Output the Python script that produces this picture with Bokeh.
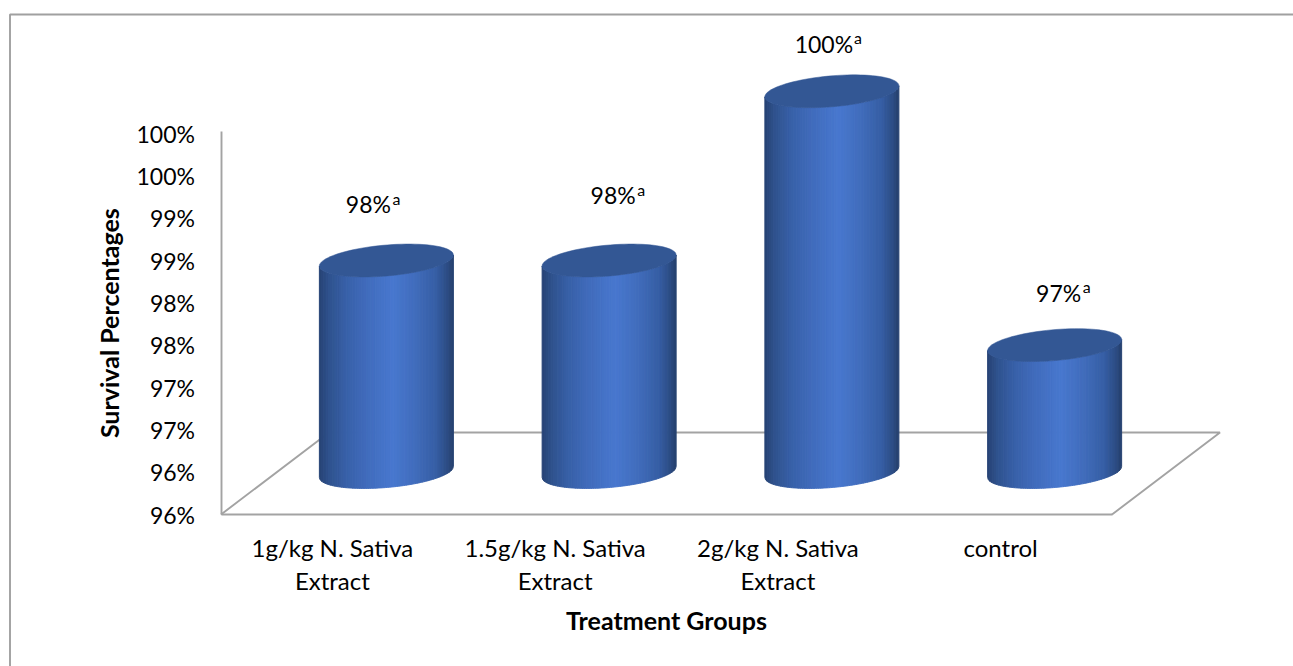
import numpy as np
from bokeh.plotting import figure
from bokeh.models import ColumnDataSource, FixedTicker, Range1d
from bokeh.core.properties import value
from bokeh.embed import file_html
from bokeh.resources import INLINE

# ---- data ----
categories = ["1g/kg N. Sativa\nExtract", "1.5g/kg N. Sativa\nExtract", "2g/kg N. Sativa\nExtract", "control"]
survival = [98, 98, 100, 97]
bar_labels = ["98%", "98%", "100%", "97%"]
y_ticks = [95.5, 96, 96.5, 97, 97.5, 98, 98.5, 99, 99.5, 100]
y_tick_labels = ["96%", "96%", "97%", "97%", "98%", "98%", "99%", "99%", "100%", "100%"]
y_title = "Survival Percentages"
x_title = "Treatment Groups"
superscript = "a"

# ---- layout and style ----
FONT = "Lato"
W, H = 1293, 666
ORIGIN_PX_X, ORIGIN_PX_Y = 220.5, 514         # where the axes cross, in canvas pixels
BORDER_PX_X, BORDER_PX_Y = 9.5, 14            # outer panel edges, in canvas pixels
X_UNIT, Y_UNIT = 222.75, 84.6                 # px per data unit
BASE = 95.5
X0 = -0.5
DEPTH_X, DEPTH_Y = 108 / X_UNIT, 82 / Y_UNIT  # full floor depth
LIFT = 1.5 / Y_UNIT
HALF_W = 67 / X_UNIT
MINOR = 15.5 / Y_UNIT
SHEAR = 5.5 / Y_UNIT
AXIS_COLOR = "#a3a3a3"
TOP_COLOR = "#335794"
LINE_W = 1.9
STOPS_U = [-1.0, -0.85, -0.6, -0.3, 0.1, 0.45, 0.75, 0.92, 1.0]
STOPS_RGB = [(0x26, 0x42, 0x73), (0x2f, 0x52, 0x8d), (0x38, 0x60, 0xa8), (0x40, 0x6b, 0xbb),
             (0x48, 0x78, 0xcf), (0x40, 0x6c, 0xbb), (0x36, 0x5e, 0xa4), (0x2c, 0x4c, 0x83), (0x26, 0x40, 0x6e)]

x_start = X0 - ORIGIN_PX_X / X_UNIT
x_end = x_start + W / X_UNIT
y_start = BASE - (H - ORIGIN_PX_Y) / Y_UNIT
y_end = y_start + H / Y_UNIT

p = figure(width=W, height=H, output_backend="svg", toolbar_location=None,
           x_range=Range1d(x_start, x_end), y_range=Range1d(y_start, y_end),
           min_border_left=0, min_border_right=0, min_border_top=0, min_border_bottom=0)
p.grid.visible = False
p.outline_line_color = None

# axes
xa = p.xaxis[0]
xa.fixed_location = BASE
xa.ticker = FixedTicker(ticks=list(range(len(categories))))
xa.major_label_overrides = {i: c for i, c in enumerate(categories)}
xa.bounds = (X0, len(categories) - 0.5)
xa.axis_line_color = AXIS_COLOR
xa.axis_line_width = LINE_W
xa.major_tick_line_color = None
xa.minor_tick_line_color = None
xa.major_label_text_font = FONT
xa.major_label_text_font_size = "24px"
xa.major_label_text_color = "#000000"
xa.major_label_standoff = 12
xa.major_label_text_line_height = 1.15

ya = p.yaxis[0]
ya.fixed_location = X0
ya.ticker = FixedTicker(ticks=y_ticks)
ya.major_label_overrides = dict(zip(y_ticks, y_tick_labels))
ya.bounds = (BASE, 100.03)
ya.axis_line_color = AXIS_COLOR
ya.axis_line_width = LINE_W
ya.major_tick_line_color = None
ya.minor_tick_line_color = None
ya.major_label_text_font = FONT
ya.major_label_text_font_size = "23px"
ya.major_label_text_color = "#000000"
ya.major_label_standoff = 20

# outer panel border (top and left edges only)
bx = x_start + BORDER_PX_X / X_UNIT
by = y_end - BORDER_PX_Y / Y_UNIT
p.line([bx, bx, x_end + 1], [y_start - 1, by, by], line_color="#a0a0a0", line_width=LINE_W)

# floor
fx = [X0, X0 + DEPTH_X, len(categories) - 0.5 + DEPTH_X, len(categories) - 0.5]
fy = [BASE, BASE + DEPTH_Y, BASE + DEPTH_Y, BASE]
p.line(fx, fy, line_color=AXIS_COLOR, line_width=LINE_W)

# cylinders
def shade(u):
    return "#%02x%02x%02x" % tuple(
        int(round(np.interp(u, STOPS_U, [c[k] for c in STOPS_RGB]))) for k in range(3))

xs, ys, cols = [], [], []
edges = np.linspace(-1, 1, 61)
tx, ty = [], []
for i, v in enumerate(survival):
    cx = i + DEPTH_X / 2
    y0 = BASE + DEPTH_Y / 2 + LIFT
    y1 = v + DEPTH_Y / 2 + LIFT
    for a, b in zip(edges[:-1], edges[1:]):
        us = np.linspace(a, b, 4)
        curve = SHEAR * us - MINOR * np.sqrt(np.clip(1 - us ** 2, 0, 1))
        x_strip = cx + HALF_W * us
        xs.append(list(x_strip) + list(x_strip[::-1]))
        ys.append(list(y1 + curve) + list((y0 + curve)[::-1]))
        cols.append(shade((a + b) / 2))
    t = np.linspace(0, 2 * np.pi, 90)
    ux = np.cos(t)
    tx.append(list(cx + HALF_W * ux))
    ty.append(list(y1 + SHEAR * ux + MINOR * np.sin(t)))

p.patches(xs, ys, fill_color=cols, line_color=cols, line_width=1.0)
p.patches(tx, ty, fill_color=TOP_COLOR, line_color=TOP_COLOR, line_width=0.5)

# data labels
label_dx = [-18, 4, -8, 4]
label_dy = [-58, -67, -49, -54]
src = ColumnDataSource(dict(
    x=[i + DEPTH_X / 2 for i in range(len(survival))],
    y=[v + DEPTH_Y / 2 for v in survival],
    t=bar_labels, s=[superscript] * len(survival),
    dx=label_dx, dy=label_dy,
    sdx=[d + (28 if len(t) == 3 else 34) for d, t in zip(label_dx, bar_labels)],
    sdy=[d - 6 for d in label_dy]))
p.text(x="x", y="y", text="t", source=src, x_offset="dx", y_offset="dy",
       text_font=value(FONT), text_font_size="23px", text_align="center", text_baseline="middle",
       text_color="#000000")
p.text(x="x", y="y", text="s", source=src, x_offset="sdx", y_offset="sdy",
       text_font=value(FONT), text_font_size="16px", text_align="center", text_baseline="middle",
       text_color="#000000")

# axis titles
p.text(x=[X0], y=[(BASE + 100) / 2], text=[y_title], x_offset=[-112], y_offset=[-1], angle=[np.pi / 2],
       text_font=value(FONT), text_font_size="25px", text_font_style="bold", text_align="center",
       text_baseline="middle", text_color="#000000")
p.text(x=[(X0 + len(categories) - 0.5) / 2], y=[BASE], text=[x_title], x_offset=[0], y_offset=[105],
       text_font=value(FONT), text_font_size="25px", text_font_style="bold", text_align="center",
       text_baseline="middle", text_color="#000000")

open("out.html", "w").write(file_html(p, INLINE))
